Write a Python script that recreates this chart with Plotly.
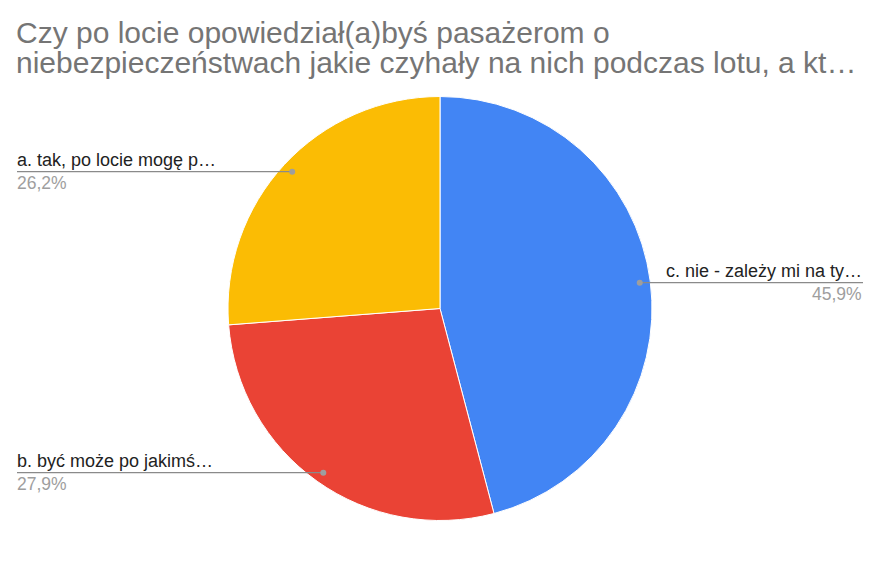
import math
import plotly.graph_objects as go

# data (order as drawn, clockwise from 12 o'clock)
labels = ["c. nie - zależy mi na ty…", "b. być może po jakimś…", "a. tak, po locie mogę p…"]
counts = [28, 17, 16]
colors = ["#4285F4", "#EA4335", "#FBBC04"]
title_lines = ["Czy po locie opowiedział(a)byś pasażerom o",
               "niebezpieczeństwach jakie czyhały na nich podczas lotu, a kt…"]

# page has an 8px body margin, so the figure is drawn 8px in from the window corner
OFF = 8
W, H = 880 - 2 * OFF, 572 - 2 * OFF
CX, CY, R = 440 - OFF, 308.5 - OFF, 212      # pie centre / radius in figure px
LEFT_X, RIGHT_X = 17 - OFF, 863 - OFF


def px(x, y):
    return x / W, 1 - y / H


fig = go.Figure(go.Pie(
    labels=labels, values=counts, sort=False, direction="clockwise", rotation=0,
    marker=dict(colors=colors, line=dict(color="white", width=1)),
    textinfo="none", hoverinfo="label+percent", showlegend=False,
    domain=dict(x=[(CX - R) / W, (CX + R) / W],
                y=[(H - CY - R) / H, (H - CY + R) / H]),
))

total = sum(counts)
start = 0.0
shapes, annos = [], []
for lab, v in zip(labels, counts):
    frac = v / total
    mid = (start + frac / 2) * 2 * math.pi
    start += frac
    dx, dy = CX + 0.95 * R * math.sin(mid), CY - 0.95 * R * math.cos(mid)
    right = dx > CX
    ex = RIGHT_X if right else LEFT_X
    x0, y0 = px(dx, dy)
    x1, _ = px(ex, dy)
    shapes.append(dict(type="line", xref="paper", yref="paper", x0=x0, y0=y0, x1=x1, y1=y0,
                       line=dict(color="#8a8a8a", width=1.3)))
    shapes.append(dict(type="circle", xref="paper", yref="paper",
                       x0=x0 - 3 / W, x1=x0 + 3 / W, y0=y0 - 3 / H, y1=y0 + 3 / H,
                       fillcolor="#9e9e9e", line=dict(width=0)))
    anchor = "right" if right else "left"
    xs = 1 if right else -2
    annos.append(dict(x=x1, y=y0, xref="paper", yref="paper", text=lab, showarrow=False,
                      xanchor=anchor, yanchor="bottom", xshift=xs, yshift=0,
                      font=dict(size=18, color="#222222")))
    annos.append(dict(x=x1, y=y0, xref="paper", yref="paper",
                      text=f"{frac * 100:.1f}%".replace(".", ","), showarrow=False,
                      xanchor=anchor, yanchor="top", xshift=xs, yshift=1,
                      font=dict(size=17.5, color="#9e9e9e")))

# title, two lines set as separate annotations for tighter spacing
for i, line in enumerate(title_lines):
    base = 42.5 + 30 * i - OFF
    annos.append(dict(x=(17 - OFF - 3) / W, y=1 - (base - 10.4) / H, xref="paper", yref="paper",
                      text=line, showarrow=False, xanchor="left", yanchor="middle",
                      font=dict(size=30, color="#757575")))

fig.update_layout(
    width=W, height=H, margin=dict(l=0, r=0, t=0, b=0),
    paper_bgcolor="white", plot_bgcolor="white",
    font=dict(family="Liberation Sans, Arial, sans-serif"),
    shapes=shapes, annotations=annos,
)

fig.write_html("out.html")
